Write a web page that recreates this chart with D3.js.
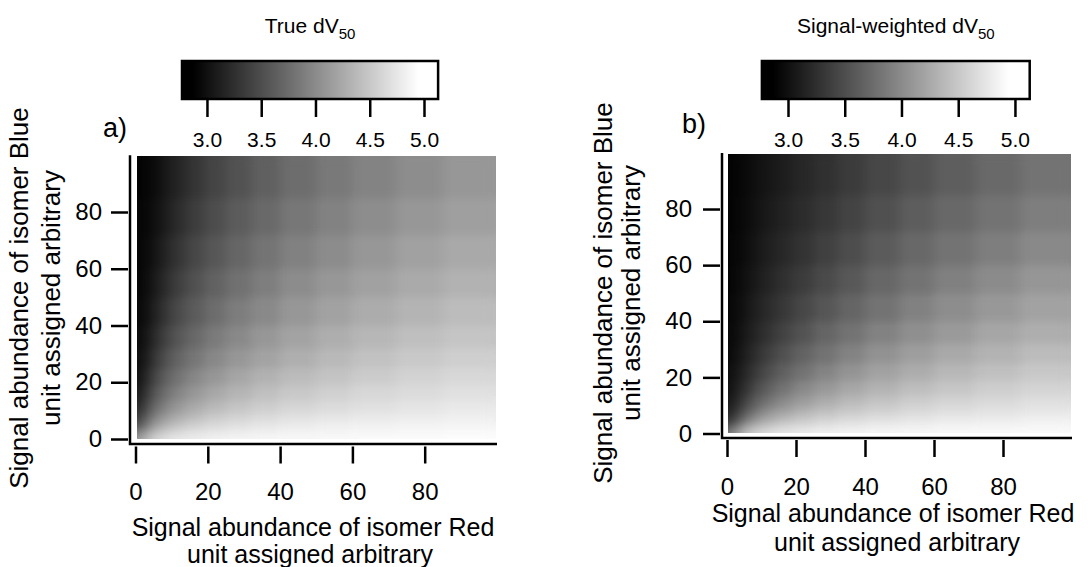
<!DOCTYPE html>
<html>
<head>
<meta charset="utf-8">
<style>
    body { margin: 0; background: #fff; }
    svg { display: block; font-family: "Liberation Sans", Arial, sans-serif; }
    .tick line, .ax-line { stroke: #000; stroke-width: 2.5px; }
    .tick text { fill: #000; }
</style>
</head>
<body>
<script src="https://cdn.jsdelivr.net/npm/d3@7"></script>
<script>
// bin edges of the heat map cells (signal abundance, arbitrary units), same for both axes
var gridEdges = [0.5, 2, 4, 7, 10, 14, 19, 25, 32, 40, 50, 60, 72, 85, 99.5];

// panel a) True dV50, one row per Blue bin (bottom row first), one value per Red bin
var trueDV = [
    [4.10, 4.46, 4.64, 4.74, 4.79, 4.83, 4.86, 4.88, 4.89, 4.90, 4.91, 4.92, 4.92, 4.93],
    [3.69, 4.10, 4.36, 4.52, 4.62, 4.69, 4.75, 4.79, 4.82, 4.84, 4.86, 4.88, 4.89, 4.90],
    [3.40, 3.82, 4.10, 4.29, 4.43, 4.53, 4.62, 4.68, 4.73, 4.77, 4.80, 4.82, 4.84, 4.85],
    [3.22, 3.61, 3.90, 4.10, 4.25, 4.38, 4.49, 4.57, 4.63, 4.69, 4.73, 4.76, 4.78, 4.81],
    [3.10, 3.45, 3.73, 3.94, 4.10, 4.24, 4.36, 4.46, 4.53, 4.60, 4.65, 4.69, 4.73, 4.76],
    [3.02, 3.30, 3.58, 3.79, 3.95, 4.10, 4.23, 4.34, 4.43, 4.50, 4.57, 4.62, 4.66, 4.70],
    [2.96, 3.19, 3.45, 3.65, 3.82, 3.97, 4.10, 4.22, 4.32, 4.40, 4.47, 4.53, 4.59, 4.63],
    [2.94, 3.10, 3.33, 3.53, 3.69, 3.84, 3.98, 4.10, 4.20, 4.30, 4.38, 4.45, 4.51, 4.56],
    [2.93, 3.04, 3.23, 3.42, 3.58, 3.73, 3.87, 3.99, 4.10, 4.20, 4.29, 4.36, 4.43, 4.48],
    [2.91, 2.99, 3.15, 3.32, 3.48, 3.62, 3.76, 3.89, 3.99, 4.10, 4.19, 4.27, 4.34, 4.40],
    [2.91, 2.96, 3.09, 3.24, 3.38, 3.53, 3.67, 3.79, 3.90, 4.01, 4.10, 4.18, 4.26, 4.32],
    [2.90, 2.94, 3.04, 3.17, 3.30, 3.45, 3.58, 3.70, 3.82, 3.92, 4.01, 4.10, 4.18, 4.25],
    [2.90, 2.93, 3.00, 3.11, 3.23, 3.37, 3.50, 3.62, 3.73, 3.84, 3.93, 4.02, 4.10, 4.17],
    [2.89, 2.92, 2.97, 3.07, 3.17, 3.30, 3.43, 3.54, 3.65, 3.76, 3.86, 3.94, 4.02, 4.10]
];

// panel b) Signal-weighted dV50
var weightedDV = [
    [3.81, 4.26, 4.51, 4.65, 4.72, 4.78, 4.82, 4.85, 4.87, 4.89, 4.90, 4.91, 4.91, 4.92],
    [3.38, 3.81, 4.13, 4.34, 4.48, 4.59, 4.66, 4.72, 4.77, 4.80, 4.83, 4.85, 4.86, 4.88],
    [3.17, 3.50, 3.81, 4.05, 4.22, 4.37, 4.48, 4.57, 4.63, 4.69, 4.73, 4.77, 4.79, 4.82],
    [3.07, 3.31, 3.58, 3.81, 4.00, 4.16, 4.30, 4.41, 4.50, 4.57, 4.63, 4.68, 4.71, 4.75],
    [3.01, 3.20, 3.42, 3.63, 3.81, 3.98, 4.13, 4.26, 4.37, 4.45, 4.53, 4.59, 4.63, 4.68],
    [2.97, 3.12, 3.29, 3.47, 3.64, 3.81, 3.97, 4.10, 4.22, 4.32, 4.41, 4.48, 4.54, 4.59],
    [2.95, 3.06, 3.20, 3.35, 3.50, 3.66, 3.81, 3.95, 4.08, 4.19, 4.28, 4.37, 4.44, 4.50],
    [2.93, 3.01, 3.13, 3.25, 3.38, 3.53, 3.68, 3.81, 3.94, 4.06, 4.16, 4.25, 4.33, 4.40],
    [2.92, 2.98, 3.08, 3.18, 3.29, 3.42, 3.55, 3.69, 3.81, 3.93, 4.04, 4.13, 4.22, 4.29],
    [2.91, 2.96, 3.04, 3.13, 3.22, 3.33, 3.45, 3.57, 3.69, 3.81, 3.92, 4.02, 4.11, 4.19],
    [2.90, 2.94, 3.01, 3.08, 3.16, 3.26, 3.36, 3.47, 3.59, 3.71, 3.81, 3.91, 4.00, 4.09],
    [2.90, 2.93, 2.98, 3.05, 3.12, 3.20, 3.29, 3.39, 3.50, 3.61, 3.72, 3.81, 3.90, 3.99],
    [2.89, 2.92, 2.96, 3.02, 3.08, 3.15, 3.23, 3.32, 3.42, 3.52, 3.63, 3.72, 3.81, 3.90],
    [2.89, 2.91, 2.95, 3.00, 3.05, 3.11, 3.19, 3.26, 3.35, 3.45, 3.54, 3.64, 3.73, 3.81]
];

var axisTicks = [0, 20, 40, 60, 80];
var cbTicks = [3.0, 3.5, 4.0, 4.5, 5.0];
var cbRange = [2.77, 5.13];
var grayRange = [2.87, 4.95];

var W = 1091, H = 567;
var svg = d3.select("body").append("svg").attr("width", W).attr("height", H);

var gray = d3.scaleLinear().domain(grayRange).range(["#000000", "#ffffff"]).clamp(true);

var panels = [
    { id: "a", label: "a)", values: trueDV, title: "True dV",
      x: [135.5, 497], y: [439, 155.25], yAxisX: 130, xAxisY: 444,
      yTickX: 128, xTickY: 446.5, xPad: 19, yPad: 9,
      cb: [182, 438.1], labelPos: [103, 137],
      yTitle: { y: 298, x1: 28, x2: 60 },
      xTitle: { x1: 313, y1: 536, x2: 310, y2: 563 } },
    { id: "b", label: "b)", values: weightedDV, title: "Signal-weighted dV",
      x: [727, 1072], y: [433.5, 152.9], yAxisX: 722, xAxisY: 438,
      yTickX: 720, xTickY: 440, xPad: 21, yPad: 11,
      cb: [761.9, 1029.7], labelPos: [682, 133],
      yTitle: { y: 293, x1: 612, x2: 640 },
      xTitle: { x1: 893, y1: 522, x2: 897, y2: 551 } }
];

var defs = svg.append("defs");

// soften the cell edges; alpha forced back to 1 so the border keeps its colour
var smooth = defs.append("filter").attr("id", "smooth")
    .attr("x", 0).attr("y", 0).attr("width", 1).attr("height", 1)
    .attr("color-interpolation-filters", "sRGB");
smooth.append("feGaussianBlur").attr("stdDeviation", "6 4");
smooth.append("feComponentTransfer").append("feFuncA")
    .attr("type", "table").attr("tableValues", "1 1");

panels.forEach(function (p) {
    var x = d3.scaleLinear().domain([0, 100]).range(p.x);
    var y = d3.scaleLinear().domain([0, 100]).range(p.y);

    // heat map cells
    var cells = [];
    p.values.forEach(function (row, j) {
        row.forEach(function (v, i) {
            cells.push({ i: i, j: j, v: v });
        });
    });
    svg.append("g")
        .attr("filter", "url(#smooth)")
        .selectAll("rect")
        .data(cells)
        .enter().append("rect")
        .attr("x", function (d) { return x(gridEdges[d.i]); })
        .attr("y", function (d) { return y(gridEdges[d.j + 1]); })
        .attr("width", function (d) { return x(gridEdges[d.i + 1]) - x(gridEdges[d.i]) + 0.5; })
        .attr("height", function (d) { return y(gridEdges[d.j]) - y(gridEdges[d.j + 1]) + 0.5; })
        .attr("fill", function (d) { return gray(d.v); });

    // axis lines (L shape, offset from the image)
    svg.append("path")
        .attr("class", "ax-line")
        .attr("fill", "none")
        .attr("d", "M" + p.yAxisX + "," + y(100) + "V" + p.xAxisY + "H" + x(100));

    // ticks
    var gx = svg.append("g")
        .attr("transform", "translate(0," + p.xTickY + ")")
        .call(d3.axisBottom(x).tickValues(axisTicks).tickSize(17).tickPadding(p.xPad).tickSizeOuter(0));
    gx.select(".domain").remove();
    gx.selectAll("text").style("font-size", "24px").attr("font-family", null);

    var gy = svg.append("g")
        .attr("transform", "translate(" + p.yTickX + ",0)")
        .call(d3.axisLeft(y).tickValues(axisTicks).tickSize(17).tickPadding(p.yPad).tickSizeOuter(0));
    gy.select(".domain").remove();
    gy.selectAll("text").style("font-size", "24px").attr("font-family", null);

    // axis titles
    var yt = svg.append("g")
        .attr("transform", "translate(0," + p.yTitle.y + ")")
        .style("font-size", "26px").attr("text-anchor", "middle");
    yt.append("text").attr("transform", "translate(" + p.yTitle.x1 + ",0) rotate(-90)")
        .text("Signal abundance of isomer Blue");
    yt.append("text").attr("transform", "translate(" + p.yTitle.x2 + ",0) rotate(-90)")
        .text("unit assigned arbitrary");

    svg.append("text").attr("x", p.xTitle.x1).attr("y", p.xTitle.y1)
        .attr("text-anchor", "middle").style("font-size", "25px")
        .text("Signal abundance of isomer Red");
    svg.append("text").attr("x", p.xTitle.x2).attr("y", p.xTitle.y2)
        .attr("text-anchor", "middle").style("font-size", "25px")
        .text("unit assigned arbitrary");

    // panel label
    svg.append("text").attr("x", p.labelPos[0]).attr("y", p.labelPos[1])
        .style("font-size", "27px").text(p.label);

    // colour bar
    var cx = d3.scaleLinear().domain(cbRange).range(p.cb);
    var grad = defs.append("linearGradient").attr("id", "grad-" + p.id)
        .attr("x1", "0%").attr("x2", "100%").attr("y1", "0%").attr("y2", "0%");
    grad.selectAll("stop")
        .data(grayRange)
        .enter().append("stop")
        .attr("offset", function (d) { return ((d - cbRange[0]) / (cbRange[1] - cbRange[0]) * 100) + "%"; })
        .attr("stop-color", function (d) { return gray(d); });

    svg.append("rect")
        .attr("x", cx(cbRange[0])).attr("y", 61)
        .attr("width", cx(cbRange[1]) - cx(cbRange[0])).attr("height", 38)
        .attr("fill", "url(#grad-" + p.id + ")")
        .attr("stroke", "#000").attr("stroke-width", 2.5);

    var gc = svg.append("g")
        .attr("transform", "translate(0,100)")
        .call(d3.axisBottom(cx).tickValues(cbTicks).tickFormat(d3.format(".1f"))
            .tickSize(17).tickPadding(15).tickSizeOuter(0));
    gc.select(".domain").remove();
    gc.selectAll("text").style("font-size", "21px").attr("font-family", null);

    // colour bar title with subscript
    var t = svg.append("text")
        .attr("x", (p.cb[0] + p.cb[1]) / 2).attr("y", 33)
        .attr("text-anchor", "middle").style("font-size", "21px");
    t.append("tspan").text(p.title);
    t.append("tspan").attr("dy", 6).style("font-size", "15px").text("50");
});
</script>
</body>
</html>
